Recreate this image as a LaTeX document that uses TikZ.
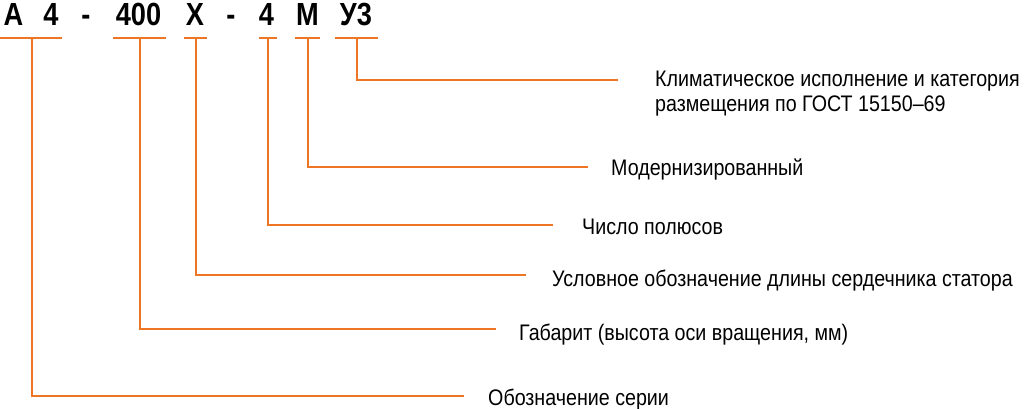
\documentclass[tikz,border=0pt]{standalone}
\usepackage{fontspec}
\setmainfont{Liberation Sans}[FakeStretch=0.874]
\newfontfamily\hdrfont{Liberation Sans}[FakeStretch=0.85]
\definecolor{lineor}{RGB}{237,117,36}
\tikzset{
  hdr/.style={font=\hdrfont\bfseries\fontsize{32}{32}\selectfont, anchor=base, inner sep=0pt},
  lbl/.style={font=\fontsize{22.5}{26}\selectfont, anchor=base west, inner sep=0pt},
  orline/.style={draw=lineor, line width=2pt},
}
\begin{document}
\begin{tikzpicture}[x=1pt,y=-1pt]
\useasboundingbox (0,0) rectangle (1024,409);
% header
\node[hdr] (hA) at (13.5,26) {А};
\node[hdr] (h4a) at (51,26) {4};
\node[hdr] (hd1) at (86,26) {-};
\node[hdr] (h400) at (138.5,26) {400};
\node[hdr] (hX) at (195,26) {Х};
\node[hdr] (hd2) at (231,26) {-};
\node[hdr] (h4b) at (266.5,26) {4};
\node[hdr] (hM) at (307.5,26) {М};
\node[hdr] (hU) at (356,26) {У3};
% underlines
\coordinate (uA1) at (0,38);   \coordinate (uA2) at (62,38);
\coordinate (u4001) at (113,38); \coordinate (u4002) at (166,38);
\coordinate (uX1) at (184,38); \coordinate (uX2) at (207,38);
\coordinate (u41) at (259,38); \coordinate (u42) at (277,38);
\coordinate (uM1) at (295,38); \coordinate (uM2) at (320,38);
\coordinate (uU1) at (335,38); \coordinate (uU2) at (378,38);
\draw[orline] (uA1) -- (uA2);
\draw[orline] (u4001) -- (u4002);
\draw[orline] (uX1) -- (uX2);
\draw[orline] (u41) -- (u42);
\draw[orline] (uM1) -- (uM2);
\draw[orline] (uU1) -- (uU2);
% connector start points
\coordinate (mA) at (32,38);
\coordinate (m400) at (139.5,38);
\coordinate (mX) at (196,38);
\coordinate (m4) at (268,38);
\coordinate (mM) at (307.5,38);
\coordinate (mU) at (356.5,38);
% connector end points
\coordinate (eU) at (618,80.5);
\coordinate (eM) at (588,167);
\coordinate (e4) at (553,224.5);
\coordinate (eX) at (526,275);
\coordinate (e400) at (496,329);
\coordinate (eA) at (464,396);
\draw[orline] (mU) |- (eU);
\draw[orline] (mM) |- (eM);
\draw[orline] (m4) |- (e4);
\draw[orline] (mX) |- (eX);
\draw[orline] (m400) |- (e400);
\draw[orline] (mA) |- (eA);
% labels
\node[lbl] (tU1) at (655,86.5) {Климатическое исполнение и категория};
\node[lbl] (tU2) at (655,112) {размещения по ГОСТ 15150–69};
\node[lbl] (tM) at (611,175) {Модернизированный};
\node[lbl] (t4) at (582,234) {Число полюсов};
\node[lbl] (tX) at (552,286) {Условное обозначение длины сердечника статора};
\node[lbl] (t400) at (519,340) {Габарит (высота оси вращения, мм)};
\node[lbl] (tA) at (488,405) {Обозначение серии};
\end{tikzpicture}
\end{document}
